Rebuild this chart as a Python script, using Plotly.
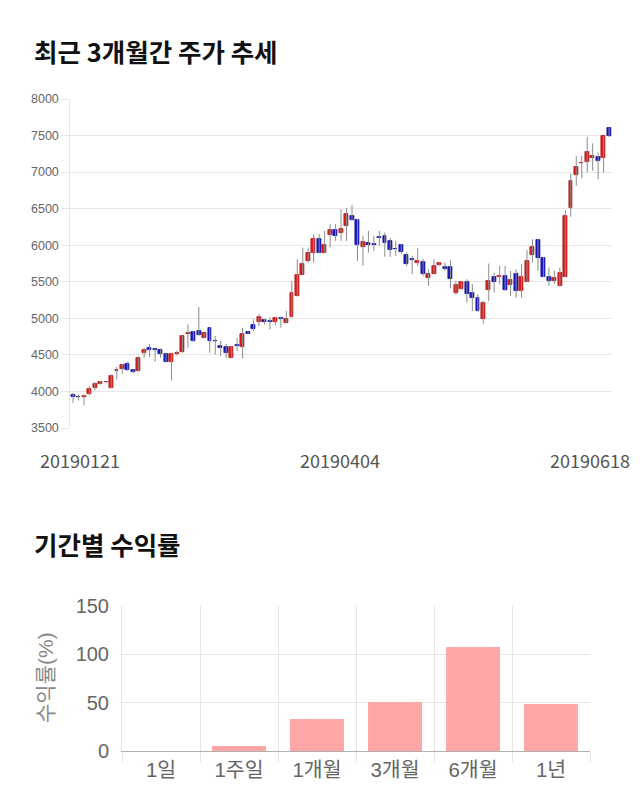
import plotly.graph_objects as go

# ---------------- data ----------------
opens = [3945, 3930, 3925, 3968, 4050, 4105, 4128, 4050, 4285, 4302,
         4379, 4288, 4279, 4525, 4598, 4580, 4566, 4507, 4406, 4507,
         4539, 4781, 4813, 4827, 4735, 4872, 4695, 4621, 4607, 4461,
         4640, 4612, 4808, 4909, 4955, 4982, 4960, 4950, 5009, 4936,
         5023, 5306, 5594, 5786, 5900, 6082, 5900, 6142, 6206, 6174,
         6265, 6393, 6347, 5977, 6032, 6008, 6119, 6128, 6059, 5950,
         6005, 5868, 5805, 5763, 5776, 5557, 5612, 5726, 5708, 5708,
         5352, 5397, 5502, 5352, 5283, 4987, 5388, 5566, 5566, 5585,
         5457, 5603, 5375, 5502, 5868, 6078, 5831, 5571, 5512, 5443,
         5571, 6507, 6964, 7120, 7132, 7192, 7201, 7192, 7600]
closes = [3927, 3920, 3930, 4028, 4105, 4128, 4135, 4210, 4292, 4356,
          4292, 4265, 4452, 4562, 4566, 4572, 4507, 4406, 4507, 4530,
          4758, 4804, 4690, 4772, 4795, 4690, 4688, 4598, 4525, 4612,
          4617, 4790, 4786, 4859, 5018, 4955, 4955, 5009, 4987, 4987,
          5343, 5594, 5749, 5891, 6082, 5900, 6005, 6206, 6128, 6219,
          6425, 6343, 6005, 6050, 6005, 6005, 6096, 6032, 5932, 5945,
          5909, 5740, 5800, 5786, 5612, 5612, 5717, 5754, 5680, 5534,
          5452, 5502, 5338, 5283, 5101, 5206, 5512, 5502, 5585, 5388,
          5530, 5375, 5566, 5786, 5977, 5831, 5571, 5512, 5557, 5626,
          6393, 6872, 7073, 7128, 7279, 7215, 7146, 7489, 7490]
highs = [3982, 3959, 3959, 4073, 4128, 4140, 4140, 4233, 4334, 4379,
         4406, 4300, 4484, 4598, 4653, 4585, 4590, 4530, 4525, 4560,
         4770, 4918, 4830, 5155, 4800, 4882, 4758, 4690, 4653, 4620,
         4735, 4872, 4815, 4987, 5064, 4995, 5009, 5015, 5015, 5101,
         5512, 5808, 5968, 5968, 6151, 6151, 6196, 6288, 6288, 6493,
         6507, 6553, 6360, 6128, 6196, 6128, 6196, 6174, 6096, 6059,
         6020, 5900, 5854, 5959, 5808, 5671, 5808, 5760, 5763, 5795,
         5512, 5510, 5534, 5466, 5329, 5238, 5749, 5626, 5717, 5717,
         5649, 5671, 5740, 5932, 6082, 6085, 5840, 5694, 5649, 5694,
         6480, 6982, 7224, 7224, 7484, 7393, 7269, 7495, 7610]
lows = [3845, 3877, 3813, 3950, 4014, 4095, 4120, 4041, 4165, 4242,
        4279, 4250, 4270, 4461, 4470, 4406, 4461, 4400, 4151, 4490,
        4530, 4598, 4680, 4760, 4730, 4530, 4507, 4484, 4461, 4455,
        4553, 4452, 4780, 4827, 4895, 4918, 4850, 4909, 4872, 4930,
        5009, 5300, 5590, 5763, 5763, 5895, 5895, 5968, 6059, 6059,
        6059, 6330, 5786, 5717, 5900, 5922, 5991, 5840, 5840, 5854,
        5877, 5717, 5603, 5717, 5580, 5443, 5600, 5720, 5649, 5411,
        5320, 5390, 5215, 5101, 5092, 4927, 5238, 5352, 5466, 5375,
        5306, 5283, 5283, 5495, 5763, 5649, 5565, 5443, 5475, 5434,
        5565, 6388, 6813, 6918, 6995, 7018, 6904, 6995, 7480]
date_labels = ["20190121", "20190404", "20190618"]
price_ticks = [3500, 4000, 4500, 5000, 5500, 6000, 6500, 7000, 7500, 8000]

periods = ["1일", "1주일", "1개월", "3개월", "6개월", "1년"]
returns = [0.0, 4.8, 33.5, 50.6, 107.6, 48.5]

# ---------------- helpers ----------------
W, H = 640, 810
def px(x):
    return x / W
def py(y):
    return 1 - y / H

RED_FILL, RED_LINE = "#dc2020", "#b01414"
BLUE_FILL, BLUE_LINE = "#1818c8", "#10109a"
GRID = "#e6e6e6"

idx = list(range(len(opens)))
up = [c >= o for o, c in zip(opens, closes)]

wx, wy = [], []
for i, h, l in zip(idx, highs, lows):
    wx += [i, i, None]
    wy += [l, h, None]

fig = go.Figure()
fig.add_trace(go.Scatter(x=wx, y=wy, mode="lines",
                         line=dict(color="#8c8c8c", width=1),
                         hoverinfo="skip", showlegend=False,
                         xaxis="x", yaxis="y"))
fig.add_trace(go.Bar(
    x=idx,
    base=[min(o, c) for o, c in zip(opens, closes)],
    y=[max(abs(c - o), 8) for o, c in zip(opens, closes)],
    width=0.72,
    marker=dict(color=[RED_FILL if u else BLUE_FILL for u in up],
                line=dict(color=[RED_LINE if u else BLUE_LINE for u in up], width=0.8)),
    showlegend=False, xaxis="x", yaxis="y"))

fig.add_trace(go.Bar(
    x=list(range(len(periods))), y=returns, width=0.7,
    marker=dict(color="#ffa6a6", line=dict(width=0)),
    showlegend=False, xaxis="x2", yaxis="y2"))

n = len(opens)
fig.update_layout(
    width=W, height=H,
    margin=dict(l=0, r=0, t=0, b=0, pad=0, autoexpand=False),
    paper_bgcolor="white", plot_bgcolor="white",
    bargap=0,
    xaxis=dict(domain=[px(70.3), px(611.8)], range=[-0.5, n - 0.5],
               showgrid=False, zeroline=False, showticklabels=False,
               ticks="", anchor="y", automargin=False),
    yaxis=dict(domain=[py(428), py(99)], range=[3500, 8000],
               tickvals=price_ticks, showgrid=True, gridcolor=GRID, gridwidth=1,
               zeroline=False, showline=True, linecolor=GRID,
               ticks="outside", ticklen=8, tickcolor=GRID,
               tickfont=dict(family="Liberation Sans, Noto Sans", size=12.5, color="#666"),
               anchor="x", automargin=False),
    xaxis2=dict(domain=[px(122), px(590)], range=[-0.5, len(periods) - 0.5],
                tickvals=list(range(len(periods))), ticktext=periods,
                ticks="", showgrid=False, zeroline=False,
                showline=True, linecolor="#b0b0b0",
                tickfont=dict(family="Liberation Sans, Noto Sans CJK KR", size=20.5, color="#666"),
                minor=dict(tickvals=[k - 0.5 for k in range(len(periods) + 1)],
                           showgrid=True, gridcolor=GRID, ticks="outside",
                           ticklen=10, tickcolor=GRID),
                anchor="y2", automargin=False),
    yaxis2=dict(domain=[py(751), py(606)], range=[0, 150],
                tickvals=[0, 50, 100, 150], showgrid=True, gridcolor=GRID,
                zeroline=False, showline=True, linecolor=GRID,
                ticks="", ticklabelstandoff=8,
                tickfont=dict(family="Liberation Sans, Noto Sans CJK KR", size=20, color="#666"),
                anchor="x2", automargin=False),
)

annotations = [
    dict(text="<b>최근 3개월간 주가 추세</b>", x=px(32), y=py(50), xanchor="left", yanchor="middle",
         font=dict(family="Noto Sans CJK KR", size=25.5, color="#111")),
    dict(text="<b>기간별 수익률</b>", x=px(32), y=py(543), xanchor="left", yanchor="middle",
         font=dict(family="Noto Sans CJK KR", size=25.5, color="#111")),
    dict(text="수익률(%)", x=px(45), y=py(678), xanchor="center", yanchor="middle",
         textangle=-90,
         font=dict(family="Liberation Sans, Noto Sans CJK KR", size=21, color="#888")),
]
for t, cx in zip(date_labels, [80, 340, 590]):
    annotations.append(dict(text=t, x=px(cx), y=py(460), xanchor="center", yanchor="middle",
                            font=dict(family="Noto Sans CJK KR", size=18, color="#555")))
for a in annotations:
    a.update(xref="paper", yref="paper", showarrow=False)
fig.update_layout(annotations=annotations)

fig.write_html("out.html", post_script="document.body.style.margin='0';")
